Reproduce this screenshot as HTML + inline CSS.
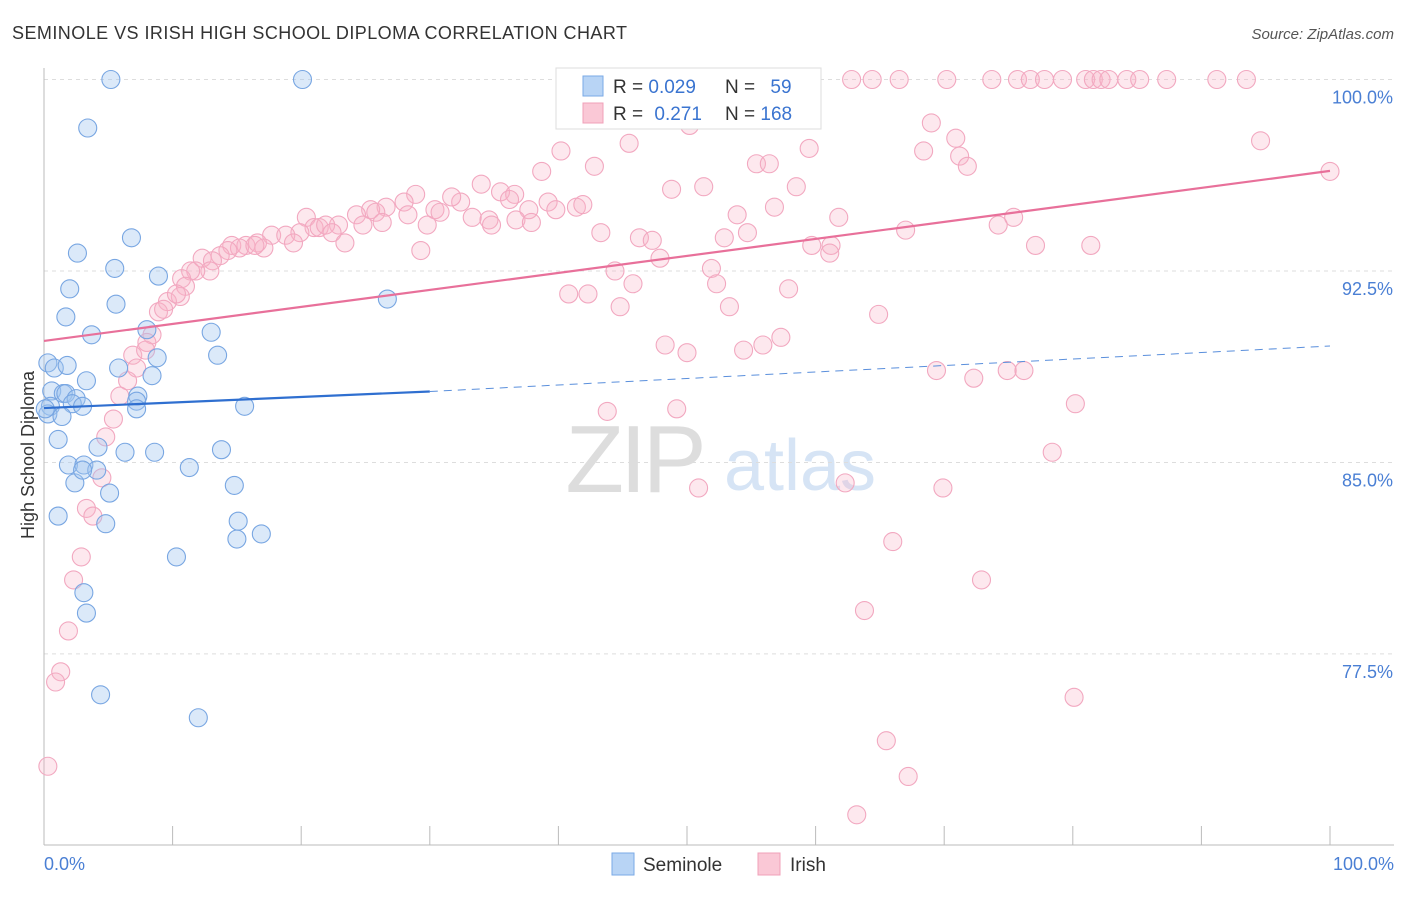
<!DOCTYPE html>
<html><head><meta charset="utf-8"><style>
body{margin:0;background:#fff;font-family:"Liberation Sans",sans-serif;}
svg text{font-family:"Liberation Sans",sans-serif;}
</style></head><body>
<svg id="chart" width="1406" height="892" viewBox="0 0 1406 892" xmlns="http://www.w3.org/2000/svg">
<text x="12" y="39" font-size="18" fill="#333" textLength="615">SEMINOLE VS IRISH HIGH SCHOOL DIPLOMA CORRELATION CHART</text>
<text x="1394" y="39" font-size="15" fill="#555" text-anchor="end" font-style="italic">Source: ZipAtlas.com</text>
<g>
<text x="634" y="492" font-size="96" fill="#ddd" font-family="Liberation Serif" text-anchor="middle" letter-spacing="-4">ZIP</text>
<text x="800" y="490" font-size="72" fill="#d6e4f5" text-anchor="middle">atlas</text>
</g>
<g id="grid"></g><g id="axes"></g><g id="pts"></g><g id="lines"></g>
<text x="34" y="455" font-size="18" fill="#333" text-anchor="middle" transform="rotate(-90 34 455)">High School Diploma</text>
<text x="44" y="870" font-size="18" fill="#4a7fd4">0.0%</text>
<text x="1394" y="870" font-size="18" fill="#4a7fd4" text-anchor="end">100.0%</text>
<g>
<rect x="556" y="68" width="265" height="61" fill="#fff" stroke="#ddd"/>
<rect x="583" y="76" width="20" height="20" fill="#b8d4f5" stroke="#7aaae6"/>
<rect x="583" y="103" width="20" height="20" fill="#fac8d6" stroke="#f0a0b8"/>
<text x="613" y="93" font-size="19" fill="#333">R = <tspan fill="#3a74d0">0.029</tspan></text>
<text x="725" y="93" font-size="19" fill="#333">N = <tspan fill="#3a74d0" dx="10">59</tspan></text>
<text x="613" y="120" font-size="19" fill="#333">R = <tspan fill="#3a74d0" dx="6">0.271</tspan></text>
<text x="725" y="120" font-size="19" fill="#333">N = <tspan fill="#3a74d0">168</tspan></text>
</g>
<g>
<rect x="612" y="853" width="22" height="22" fill="#b8d4f5" stroke="#7aaae6"/>
<text x="643" y="871" font-size="19" fill="#333">Seminole</text>
<rect x="758" y="853" width="22" height="22" fill="#fac8d6" stroke="#f0a0b8"/>
<text x="790" y="871" font-size="19" fill="#333">Irish</text>
</g>
</svg>
<script>
const yTicks=[100,92.5,85,77.5];
const yTickLabels=["100.0%","92.5%","85.0%","77.5%"];
const xTicks=[0,10,20,30,40,50,60,70,80,90,100];
const blueX=[5.2,20.1,3.4,2.6,6.8,5.5,8.9,2.0,5.6,1.7,3.7,8.0,13.0,0.3,0.8,1.8,13.5,8.8,5.8,8.4,3.3,0.6,1.5,1.7,2.5,7.3,7.2,0.5,2.2,3.0,15.6,7.2,0.3,1.4,1.1,4.2,6.3,8.6,13.8,1.9,3.1,4.1,11.3,2.4,5.1,14.8,1.1,4.8,15.1,15.0,16.9,10.3,3.1,3.3,4.4,12.0,26.7,0.1,3.0];
const blueY=[100,100,98.1,93.2,93.8,92.6,92.3,91.8,91.2,90.7,90.0,90.2,90.1,88.9,88.7,88.8,89.2,89.1,88.7,88.4,88.2,87.8,87.7,87.7,87.5,87.6,87.4,87.2,87.3,87.2,87.2,87.1,86.9,86.8,85.9,85.6,85.4,85.4,85.5,84.9,84.9,84.7,84.8,84.2,83.8,84.1,82.9,82.6,82.7,82.0,82.2,81.3,79.9,79.1,75.9,75.0,91.4,87.1,84.7];
const pinkX=[58.8,62.8,64.4,66.5,70.2,73.7,75.7,76.7,77.8,79.2,81.0,81.6,82.2,82.8,84.2,85.2,87.3,91.2,93.5,50.2,69.0,70.9,40.2,45.5,59.5,68.4,71.2,71.8,94.6,100.0,55.4,56.4,42.8,38.7,34.0,48.8,51.3,58.5,35.5,36.6,28.9,28.0,32.4,31.7,36.2,26.6,30.4,25.4,39.2,41.4,41.9,56.8,24.3,25.8,30.8,33.3,34.6,37.7,39.8,20.4,21.0,22.9,24.8,26.3,28.3,29.8,34.8,36.7,37.9,53.9,61.8,75.4,74.2,17.7,19.9,21.4,21.9,22.4,18.8,43.3,67.0,46.3,47.3,52.9,54.7,59.7,61.2,77.1,81.4,14.6,15.7,16.6,17.1,15.2,19.4,23.4,16.4,14.3,13.7,12.3,13.1,12.9,11.8,11.4,10.7,47.9,61.1,44.4,51.9,11.0,10.6,9.6,10.3,8.9,9.3,40.8,42.3,45.8,52.3,57.9,44.8,53.3,64.9,8.4,8.0,6.9,7.9,48.3,50.0,54.4,55.9,57.3,7.2,6.5,5.9,5.4,4.8,4.5,3.3,3.8,2.9,2.3,1.9,1.3,0.9,0.3,43.8,49.2,29.3,50.9,62.3,69.9,80.2,78.4,66.0,63.8,72.9,80.1,65.5,67.2,63.2,69.4,72.3,74.9,76.2];
const pinkY=[100,100,100,100,100,100,100,100,100,100,100,100,100,100,100,100,100,100,100,98.2,98.3,97.7,97.2,97.5,97.3,97.2,97.0,96.6,97.6,96.4,96.7,96.7,96.6,96.4,95.9,95.7,95.8,95.8,95.6,95.5,95.5,95.2,95.2,95.4,95.3,95.0,94.9,94.9,95.2,95.0,95.1,95.0,94.7,94.8,94.8,94.6,94.5,94.9,94.9,94.6,94.2,94.3,94.3,94.4,94.7,94.3,94.3,94.5,94.4,94.7,94.6,94.6,94.3,93.9,94.0,94.2,94.3,94.0,93.9,94.0,94.1,93.8,93.7,93.8,94.0,93.5,93.5,93.5,93.5,93.5,93.5,93.6,93.4,93.4,93.6,93.6,93.5,93.3,93.1,93.0,92.9,92.5,92.5,92.5,92.2,93.0,93.2,92.5,92.6,91.9,91.5,91.3,91.6,90.9,91.0,91.6,91.6,92.0,92.0,91.8,91.1,91.1,90.8,90.0,89.7,89.2,89.4,89.6,89.3,89.4,89.6,89.9,88.7,88.2,87.6,86.7,86.0,84.4,83.2,82.9,81.3,80.4,78.4,76.8,76.4,73.1,87.0,87.1,93.3,84.0,84.2,84.0,87.3,85.4,81.9,79.2,80.4,75.8,74.1,72.7,71.2,88.6,88.3,88.6,88.6];
const blueTrend=[87.13,87.78,89.56];
const pinkTrend=[89.76,96.42];
const NS="http://www.w3.org/2000/svg";
const sx=v=>44+v*12.86, sy=v=>79.5+(100-v)*25.53;
function mk(tag,attrs,parent){const e=document.createElementNS(NS,tag);for(const k in attrs)e.setAttribute(k,attrs[k]);document.getElementById(parent).appendChild(e);return e;}
yTicks.forEach((t,i)=>{
 const g=mk('line',{x1:44,x2:1394,y1:sy(t),y2:sy(t),stroke:'#ddd','stroke-dasharray':'4,4'},'grid');
 
 
 const l=mk('text',{x:1393,y:sy(t)+24,'font-size':18,fill:'#4a7fd4','text-anchor':'end'},'grid');
 l.textContent=yTickLabels[i];
 
 
});
const ax=mk('line',{x1:44,x2:1394,y1:845,y2:845,stroke:'#bbb'},'axes');


const ay=mk('line',{x1:44,x2:44,y1:68,y2:845,stroke:'#bbb'},'axes');


xTicks.forEach(t=>{
 const k=mk('line',{x1:sx(t),x2:sx(t),y1:826,y2:845,stroke:'#bbb'},'axes');
 
 
});
pinkX.forEach((x,i)=>{
 const c=mk('circle',{cx:sx(x),cy:sy(pinkY[i]),r:9,fill:'rgba(248,180,200,0.3)',stroke:'#f2a8c0','stroke-width':1.1},'pts');
 
 
});
blueX.forEach((x,i)=>{
 const c=mk('circle',{cx:sx(x),cy:sy(blueY[i]),r:9,fill:'rgba(160,196,240,0.38)',stroke:'#78a6e2','stroke-width':1.1},'pts');
 
 
});
const pl=mk('line',{x1:sx(0),y1:sy(pinkTrend[0]),x2:sx(100),y2:sy(pinkTrend[1]),stroke:'#e8709a','stroke-width':2.2},'lines');


const bl=mk('line',{x1:sx(0),y1:sy(blueTrend[0]),x2:sx(30),y2:sy(blueTrend[1]),stroke:'#2f6fd0','stroke-width':2.2},'lines');


const bd=mk('line',{x1:sx(30),y1:sy(blueTrend[1]),x2:sx(100),y2:sy(blueTrend[2]),stroke:'#5a8fdc','stroke-width':1,'stroke-dasharray':'8,6'},'lines');


</script>
</body></html>
